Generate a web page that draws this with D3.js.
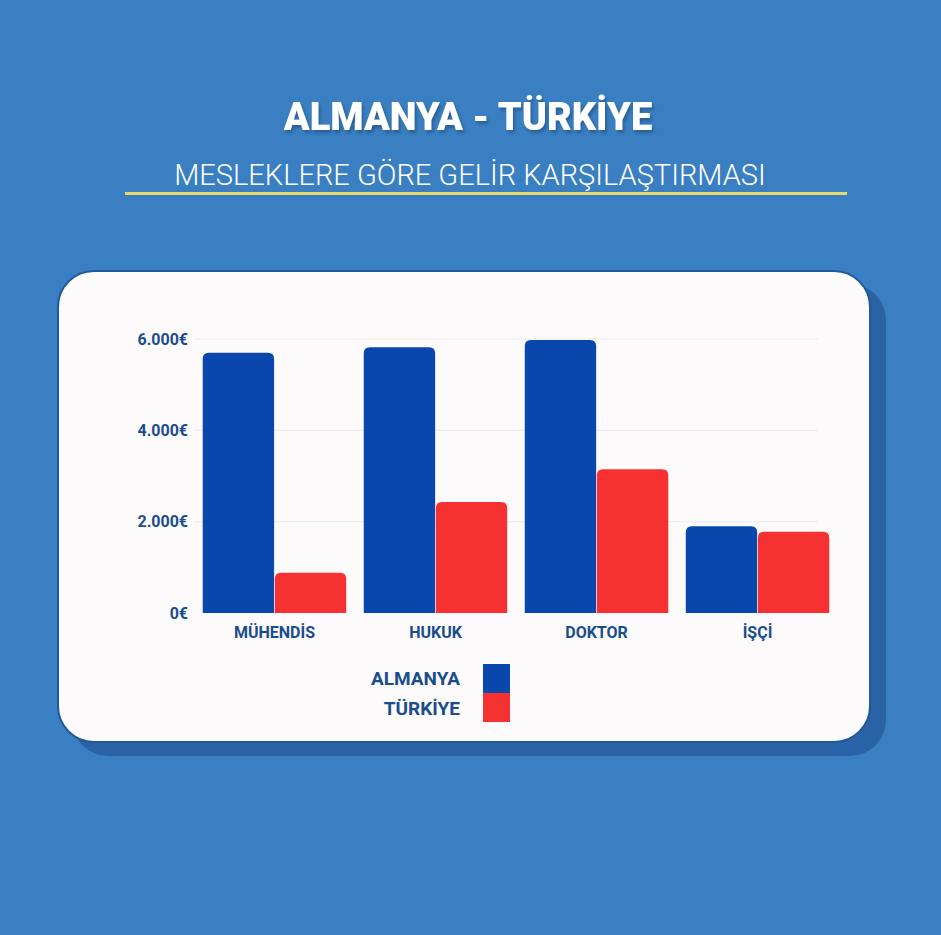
<!DOCTYPE html>
<html><head><meta charset="utf-8">
<script src="https://cdn.jsdelivr.net/npm/d3@7"></script>
<style>body{margin:0;background:#3a7fc1;}svg{display:block;}</style>
</head><body><svg id="chart"></svg>
<script>
const categories = ['MÜHENDİS', 'HUKUK', 'DOKTOR', 'İŞÇİ'];
const almanya = [5700, 5820, 5980, 1900];
const turkiye = [880, 2430, 3150, 1780];
const series = ['ALMANYA', 'TÜRKİYE'];
const tickValues = [0, 2000, 4000, 6000];
const colors = ['#0a47ac', '#f53131'];

const width = 941, height = 935;
const svg = d3.select('#chart').attr('width', width).attr('height', height);
const font = 'Roboto, "Noto Sans", sans-serif';

// title
const defs = svg.append('defs');
defs.append('filter').attr('id', 'sh')
  .append('feDropShadow').attr('dx', 2).attr('dy', 3).attr('stdDeviation', 1.5)
  .attr('flood-color', '#1d4d80').attr('flood-opacity', 0.6);
svg.append('text').attr('x', 468).attr('y', 130).attr('text-anchor', 'middle')
  .attr('font-family', font).attr('font-weight', 900).attr('font-size', 38)
  .attr('fill', '#fff').attr('filter', 'url(#sh)').text('ALMANYA - TÜRKİYE');
svg.append('text').attr('x', 470).attr('y', 185).attr('text-anchor', 'middle')
  .attr('font-family', font).attr('font-weight', 300).attr('font-size', 29)
  .attr('fill', '#fff').text('MESLEKLERE GÖRE GELİR KARŞILAŞTIRMASI');
svg.append('rect').attr('x', 125).attr('y', 192).attr('width', 722).attr('height', 3).attr('fill', '#e6db6a');

// card
svg.append('rect').attr('x', 72).attr('y', 284).attr('width', 814).attr('height', 472).attr('rx', 36).attr('fill', '#2a62a6');
svg.append('rect').attr('x', 58).attr('y', 271).attr('width', 812).attr('height', 471).attr('rx', 36)
  .attr('fill', '#fcfafa').attr('stroke', '#1f5a9c').attr('stroke-width', 2);

const x0 = d3.scaleBand().domain(categories).range([202, 830]).paddingInner(0.1).paddingOuter(0);
const x1 = d3.scaleBand().domain(series).range([0, x0.bandwidth()]).padding(0.01);
const y = d3.scaleLinear().domain([0, 6000]).range([613, 339]);

const grid = svg.append('g');
grid.selectAll('line').data(tickValues.slice(1)).join('line')
  .attr('x1', 195).attr('x2', 818).attr('y1', d => y(d)).attr('y2', d => y(d))
  .attr('stroke', '#eeeae8').attr('stroke-width', 1);

const yAxis = svg.append('g').attr('transform', 'translate(188,0)')
  .call(d3.axisLeft(y).tickValues(tickValues).tickSize(0).tickPadding(0)
    .tickFormat(d => (d === 0 ? '0' : d3.format(',')(d).replace(',', '.')) + '€'));
yAxis.select('.domain').remove();
yAxis.selectAll('text').attr('font-family', font).attr('font-weight', 700).attr('font-size', 16).attr('fill', '#1b4d8c');

const xAxis = svg.append('g').attr('transform', 'translate(0,613)')
  .call(d3.axisBottom(x0).tickSize(0).tickPadding(14));
xAxis.select('.domain').remove();
xAxis.selectAll('text').attr('font-family', font).attr('font-weight', 700).attr('font-size', 16).attr('fill', '#1b4d8c');

const rr = 6;
function barPath(x, yy, w, h) {
  return `M${x},${yy + h}V${yy + rr}Q${x},${yy} ${x + rr},${yy}H${x + w - rr}Q${x + w},${yy} ${x + w},${yy + rr}V${yy + h}Z`;
}
const groups = svg.append('g').selectAll('g').data(categories).join('g')
  .attr('transform', d => `translate(${x0(d)},0)`);
groups.selectAll('path').data((d, i) => [almanya[i], turkiye[i]].map((v, j) => ({ s: series[j], v, j })))
  .join('path')
  .attr('d', d => barPath(x1(d.s), y(d.v), x1.bandwidth(), y(0) - y(d.v)))
  .attr('fill', d => colors[d.j]);

// legend
const lg = svg.append('g');
series.forEach((s, i) => {
  lg.append('rect').attr('x', 483).attr('y', 664 + i * 29).attr('width', 27).attr('height', 29).attr('fill', colors[i]);
  lg.append('text').attr('x', 460).attr('y', 685 + i * 30).attr('text-anchor', 'end')
    .attr('font-family', font).attr('font-weight', 700).attr('font-size', 19).attr('fill', '#1b4d8c').text(s);
});
</script></body></html>
